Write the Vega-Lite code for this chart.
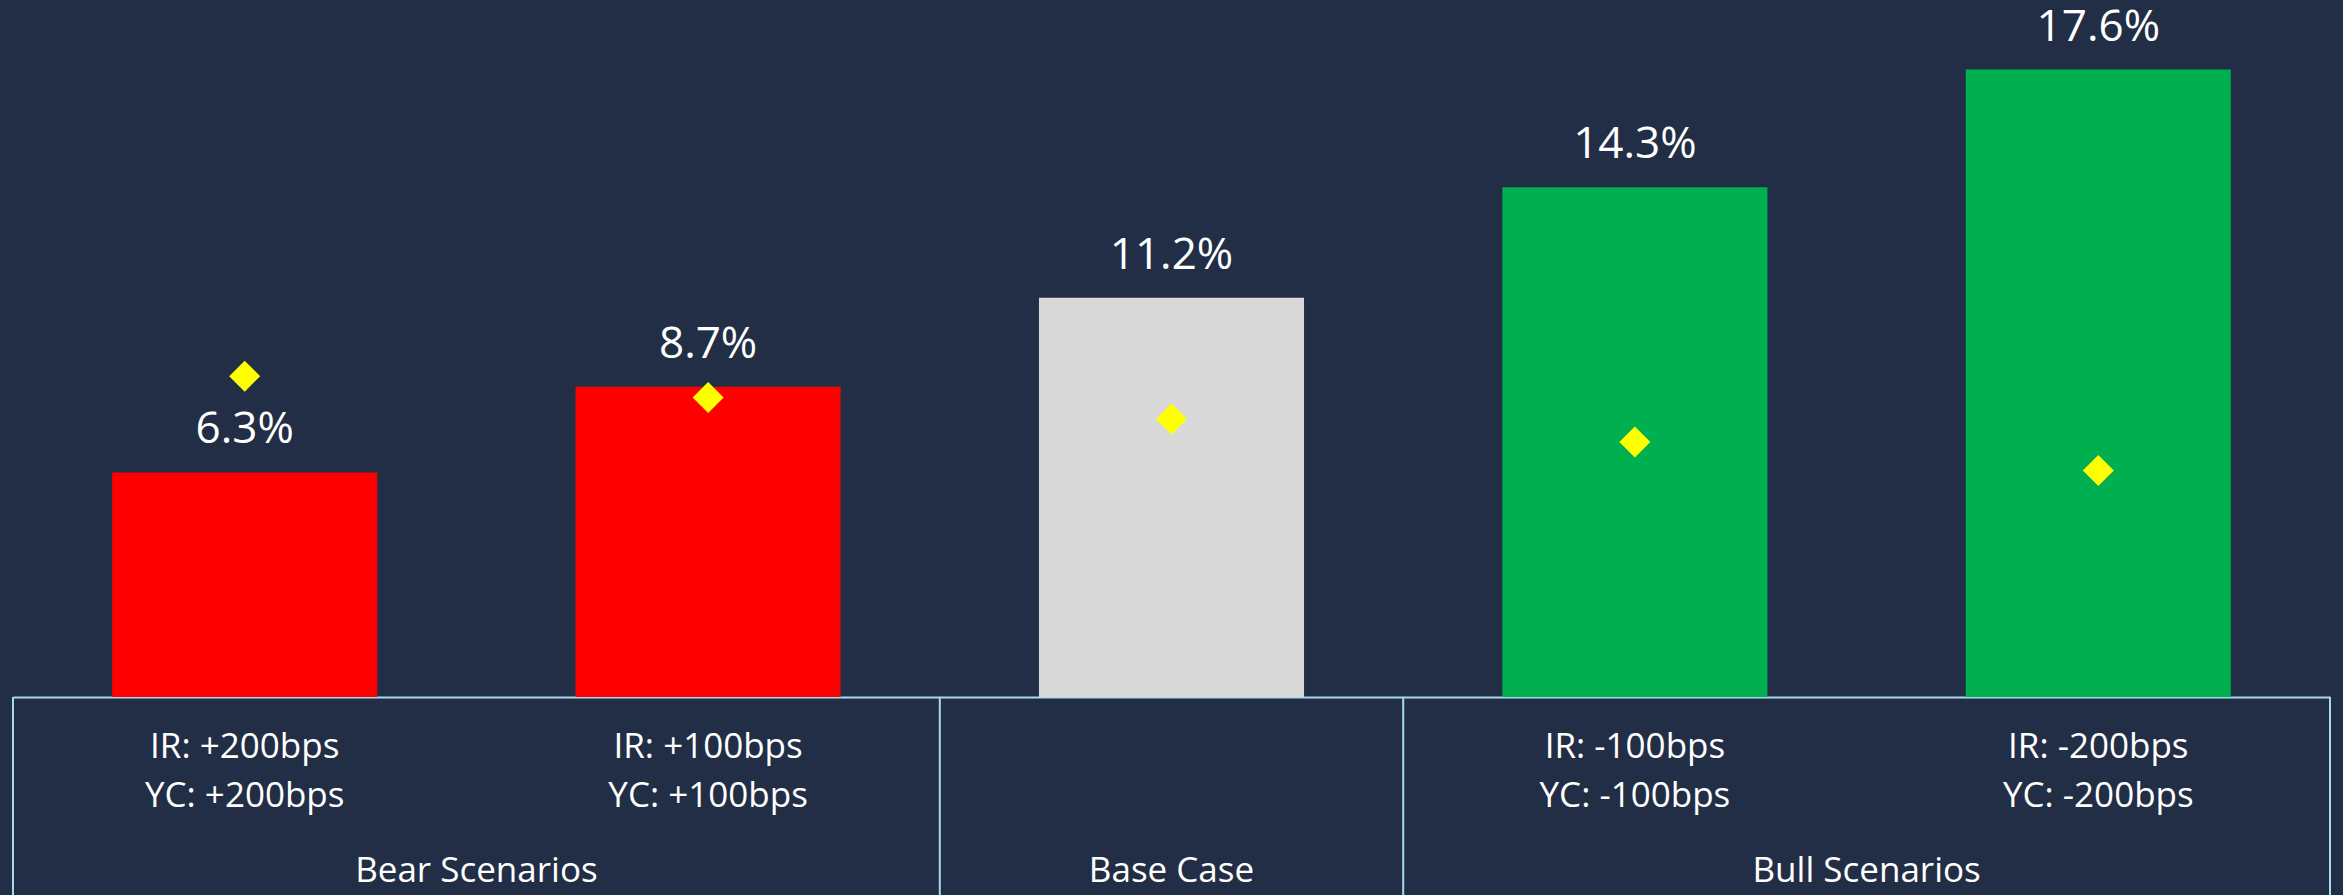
{
  "$schema": "https://vega.github.io/schema/vega-lite/v6.json",
  "background": "#222e45",
  "padding": {"left": 12, "top": 0, "right": 14, "bottom": 0},
  "bounds": "flush",
  "spacing": 0,
  "config": {"view": {"stroke": null}, "font": "Open Sans"},
  "datasets": {
    "scen": [
      {"key": "bear200", "scenario": "IR: +200bps\nYC: +200bps", "kind": "Bear", "irr": 6.3, "label": "6.3%", "marker": 9.0},
      {"key": "bear100", "scenario": "IR: +100bps\nYC: +100bps", "kind": "Bear", "irr": 8.7, "label": "8.7%", "marker": 8.4},
      {"key": "base", "scenario": "", "kind": "Base", "irr": 11.2, "label": "11.2%", "marker": 7.8},
      {"key": "bull100", "scenario": "IR: -100bps\nYC: -100bps", "kind": "Bull", "irr": 14.3, "label": "14.3%", "marker": 7.15},
      {"key": "bull200", "scenario": "IR: -200bps\nYC: -200bps", "kind": "Bull", "irr": 17.6, "label": "17.6%", "marker": 6.35}
    ],
    "groups": [
      {"group": "Bear Scenarios", "mid": 1},
      {"group": "Base Case", "mid": 2.5},
      {"group": "Bull Scenarios", "mid": 4}
    ],
    "seps": [{"pos": 0}, {"pos": 2}, {"pos": 3}, {"pos": 5}]
  },
  "vconcat": [
    {
      "width": 2317,
      "height": 697,
      "data": {"name": "scen"},
      "encoding": {
        "x": {
          "field": "key", "type": "nominal", "sort": null,
          "scale": {"paddingInner": 0.428, "paddingOuter": 0.214},
          "axis": {"labels": false, "ticks": false, "title": null, "domainColor": "#a9d9ef", "domainWidth": 2}
        },
        "y": {"field": "irr", "type": "quantitative", "scale": {"domain": [0, 19.55], "nice": false}, "axis": null}
      },
      "layer": [
        {
          "mark": {"type": "bar"},
          "encoding": {
            "color": {"field": "kind", "type": "nominal", "scale": {"domain": ["Bear", "Base", "Bull"], "range": ["#ff0000", "#d9d9d9", "#00b050"]}, "legend": null}
          }
        },
        {
          "mark": {"type": "text", "baseline": "bottom", "dy": -20, "fontSize": 44, "color": "#ffffff"},
          "encoding": {"text": {"field": "label"}}
        },
        {
          "mark": {"type": "point", "shape": "diamond", "filled": true, "size": 961, "color": "#ffff00", "opacity": 1},
          "encoding": {"y": {"field": "marker", "type": "quantitative"}}
        }
      ]
    },
    {
      "width": 2317,
      "height": 198,
      "layer": [
        {
          "data": {"name": "seps"},
          "mark": {"type": "rule", "color": "#a9d9ef", "strokeWidth": 2},
          "encoding": {"x": {"field": "pos", "type": "quantitative", "scale": {"domain": [0, 5], "nice": false, "zero": false}, "axis": null}}
        },
        {
          "data": {"name": "groups"},
          "mark": {"type": "text", "fontSize": 35, "color": "#ffffff", "baseline": "middle"},
          "encoding": {
            "x": {"field": "mid", "type": "quantitative", "scale": {"domain": [0, 5], "nice": false, "zero": false}, "axis": null},
            "y": {"datum": 0.121, "type": "quantitative", "scale": {"domain": [0, 1], "nice": false, "zero": false}, "axis": null},
            "text": {"field": "group"}
          }
        },
        {
          "data": {"name": "scen"},
          "mark": {"type": "text", "fontSize": 35, "color": "#ffffff", "baseline": "middle", "lineBreak": "\n", "lineHeight": 49},
          "encoding": {
            "x": {"field": "key", "type": "nominal", "sort": null, "scale": {"paddingInner": 0.428, "paddingOuter": 0.214}, "axis": null},
            "y": {"datum": 0.747, "type": "quantitative", "scale": {"domain": [0, 1], "nice": false, "zero": false}, "axis": null},
            "text": {"field": "scenario"}
          }
        }
      ],
      "resolve": {"scale": {"x": "independent"}}
    }
  ]
}
